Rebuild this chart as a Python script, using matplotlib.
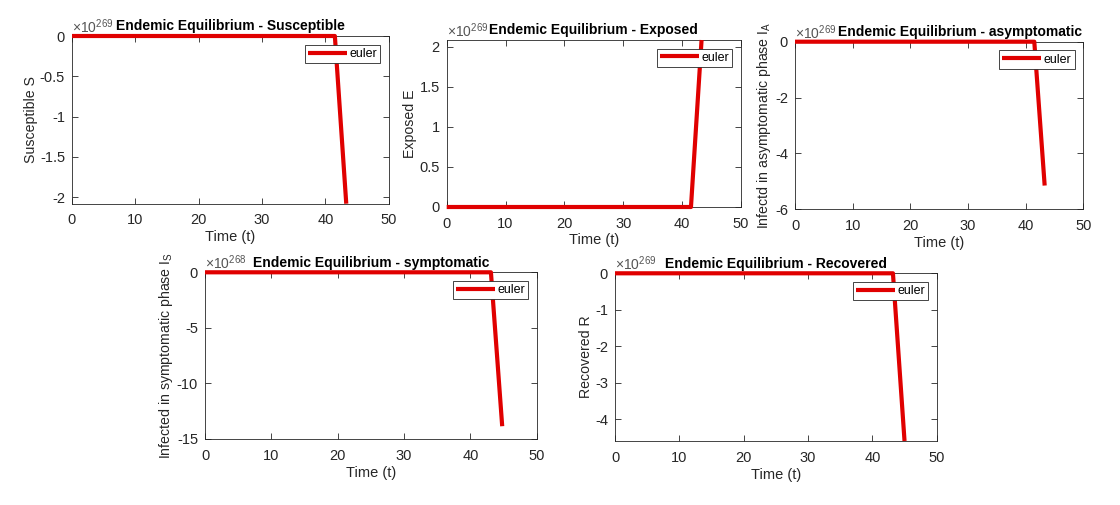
#!/usr/bin/env python3
"""
Endemic equilibrium - euler solution panels
"""
import matplotlib
matplotlib.use('Agg')
import matplotlib.pyplot as plt
from matplotlib import ticker

plt.rcParams['font.family'] = ['Liberation Sans', 'DejaVu Sans']
plt.rcParams['mathtext.default'] = 'regular'

# values in units of 10^exponent (euler blow-up near the end)
t_S = [0, 41.5, 43.3]
S = [0, 0, -2.083]
t_E = [0, 41.5, 43.3]
E = [0, 0, 2.083]
t_A = [0, 41.5, 43.3]
I_A = [0, 0, -5.15]
t_IS = [0, 43.1, 44.8]
I_S = [0, 0, -13.85]
t_R = [0, 43.2, 45.0]
R = [0, 0, -4.59]

exponents = [269, 269, 269, 268, 269]
titles = ['Endemic Equilibrium - Susceptible', 'Endemic Equilibrium - Exposed',
          'Endemic Equilibrium - asymptomatic', 'Endemic Equilibrium - symptomatic',
          'Endemic Equilibrium - Recovered']
ylabels = ['Susceptible S', 'Exposed E', 'Infectd in asymptomatic phase I$_A$',
           'Infected in symptomatic phase I$_S$', 'Recovered R']
yticks = [[-2, -1.5, -1, -0.5, 0], [0, 0.5, 1, 1.5, 2], [-6, -4, -2, 0],
          [-15, -10, -5, 0], [-4, -3, -2, -1, 0]]
ylims = [(min(S), 0), (0, max(E)), (-6, 0), (-15, 0), (min(R), 0)]
xticks = [0, 10, 20, 30, 40, 50]
series = [(t_S, S), (t_E, E), (t_A, I_A), (t_IS, I_S), (t_R, R)]

# axes boxes in pixels: left, right, top, bottom
W, H = 1120, 505
boxes = [(72, 388.7, 36, 203.7), (446.7, 741, 40, 207), (795, 1083.3, 41.7, 209.3),
         (205, 536.7, 272.3, 439), (615, 936.7, 273.3, 441)]
# title centre (axes fraction); matlab pushes it right when the exponent is in the way
title_x = [0.5, 0.5, 0.574, 0.5, 0.5]

GRAY = '#262626'
RED = '#e00000'

fig = plt.figure(figsize=(W / 100, H / 100), dpi=100)

for i, (l, r, t, b) in enumerate(boxes):
    ax = fig.add_axes([l / W, 1 - b / H, (r - l) / W, (b - t) / H])
    x, y = series[i]
    ax.plot(x, y, color=RED, linewidth=3, label='euler', clip_on=False,
            solid_capstyle='butt', zorder=5)
    ax.set_xlim(0, 50)
    ax.set_ylim(*ylims[i])
    ax.set_xticks(xticks)
    ax.set_yticks(yticks[i])
    ax.yaxis.set_major_formatter(ticker.FuncFormatter(lambda v, p: f'{v:g}'))
    ax.tick_params(direction='in', top=True, right=True, length=4, width=0.6,
                   labelsize=10.5, colors=GRAY, labelcolor=GRAY)
    ax.tick_params(axis='x', pad=7)
    ax.tick_params(axis='y', pad=5)
    for sp in ax.spines.values():
        sp.set_color(GRAY)
        sp.set_linewidth(0.6)
    ax.set_xlabel('Time (t)', fontsize=10.5, color=GRAY, labelpad=2)
    ax.set_ylabel(ylabels[i], fontsize=10.2, color=GRAY, labelpad=1.5)
    ttl = ax.set_title(titles[i], fontsize=10, fontweight='bold', pad=4)
    ttl.set_x(title_x[i])
    ax.text(0.0, 1.0, r'$\times10^{%d}$' % exponents[i], transform=ax.transAxes,
            ha='left', va='bottom', fontsize=10, color='#555555')
    leg = ax.legend(loc='upper right', fontsize=9, fancybox=False, framealpha=1,
                    edgecolor=GRAY, handlelength=3.1, handletextpad=0.2,
                    borderpad=0.25, borderaxespad=0.7)
    leg.get_frame().set_linewidth(0.6)

plt.savefig('out.png', dpi=100)
